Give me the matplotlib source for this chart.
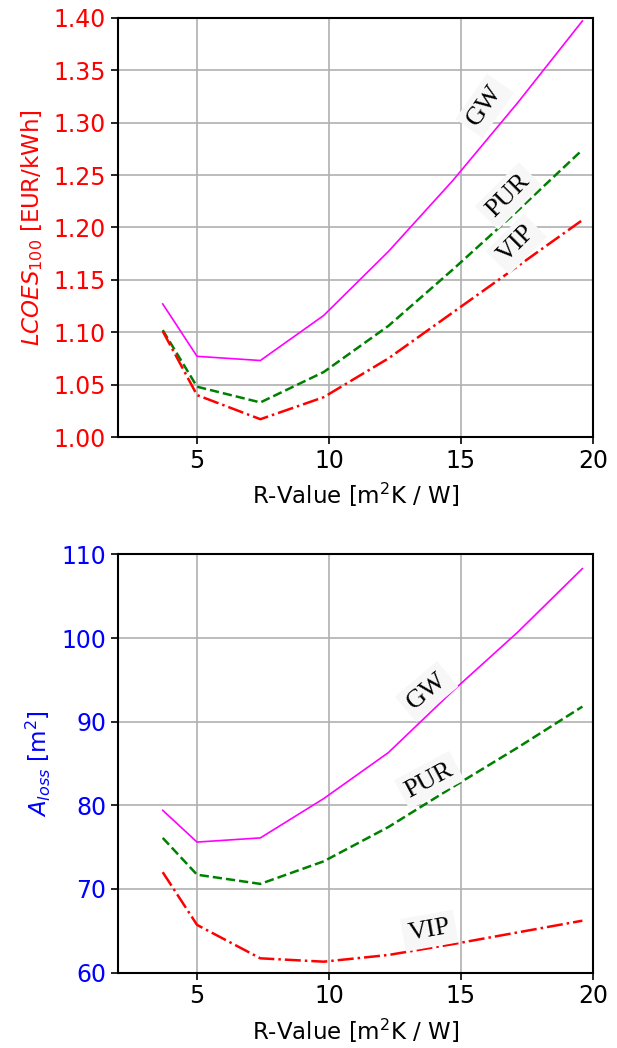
import numpy as np
import matplotlib
matplotlib.use('Agg')
import matplotlib.pyplot as plt

# R-values of the insulation variants
r_value = [3.7, 5.0, 7.4, 9.8, 12.25, 14.7, 17.15, 19.6]

# LCOES_100 [EUR/kWh]
lcoes_gw = [1.127, 1.077, 1.073, 1.116, 1.177, 1.245, 1.319, 1.397]
lcoes_pur = [1.102, 1.048, 1.033, 1.062, 1.106, 1.160, 1.216, 1.274]
lcoes_vip = [1.101, 1.040, 1.017, 1.038, 1.075, 1.119, 1.163, 1.207]

# A_loss [m2]
aloss_gw = [79.4, 75.6, 76.1, 80.8, 86.3, 93.7, 100.7, 108.3]
aloss_pur = [76.1, 71.7, 70.6, 73.3, 77.4, 82.2, 86.9, 91.8]
aloss_vip = [72.0, 65.7, 61.7, 61.3, 62.1, 63.4, 64.8, 66.2]

fig = plt.figure(figsize=(6.17, 10.48), dpi=100)
ax1 = fig.add_axes([0.191, 0.583, 0.770, 0.400])
ax2 = fig.add_axes([0.191, 0.072, 0.770, 0.399])

lab_font = dict(family='Liberation Serif', fontsize=19, color='black')
box = dict(facecolor='#f7f7f7', edgecolor='none', pad=4)

def style(ax, col):
    ax.grid(True, color='#b0b0b0', linewidth=1.2)
    ax.set_axisbelow(True)
    for s in ax.spines.values():
        s.set_linewidth(1.5)
    ax.tick_params(axis='both', labelsize=17, width=1.2, length=5)
    ax.tick_params(axis='y', labelcolor=col)
    ax.set_xlim(2, 20)
    ax.set_xticks([5, 10, 15, 20])
    ax.set_xlabel('R-Value [m$^2$K / W]', fontsize=16.5, labelpad=6)

# top: LCOES
ax1.plot(r_value, lcoes_gw, color='magenta', linewidth=1.2)
ax1.plot(r_value, lcoes_pur, color='green', linestyle='--', linewidth=1.8)
ax1.plot(r_value, lcoes_vip, color='red', linestyle='-.', linewidth=1.8)
style(ax1, 'red')
ax1.set_ylim(1.0, 1.4)
ax1.set_yticks(np.arange(1.0, 1.401, 0.05))
ax1.set_ylabel('$LCOES_{100}$ [EUR/kWh]', color='red', fontsize=16.5, labelpad=6)
ax1.text(15.9, 1.316, 'GW', rotation=55, ha='center', va='center', bbox=box, **lab_font)
ax1.text(16.8, 1.230, 'PUR', rotation=45, ha='center', va='center', bbox=box, **lab_font)
ax1.text(17.1, 1.184, 'VIP', rotation=45, ha='center', va='center', bbox=box, **lab_font)

# bottom: A_loss
ax2.plot(r_value, aloss_gw, color='magenta', linewidth=1.2)
ax2.plot(r_value, aloss_pur, color='green', linestyle='--', linewidth=1.8)
ax2.plot(r_value, aloss_vip, color='red', linestyle='-.', linewidth=1.8)
style(ax2, 'blue')
ax2.set_ylim(60, 110)
ax2.set_yticks(range(60, 111, 10))
ax2.set_ylabel('$A_{loss}$ [m$^2$]', color='blue', fontsize=16.5, labelpad=6)
ax2.text(13.7, 93.6, 'GW', rotation=40, ha='center', va='center', bbox=box, **lab_font)
ax2.text(13.8, 83.0, 'PUR', rotation=28, ha='center', va='center', bbox=box, **lab_font)
ax2.text(13.8, 65.0, 'VIP', rotation=10, ha='center', va='center', bbox=box, **lab_font)

plt.savefig('out.png', dpi=100)
